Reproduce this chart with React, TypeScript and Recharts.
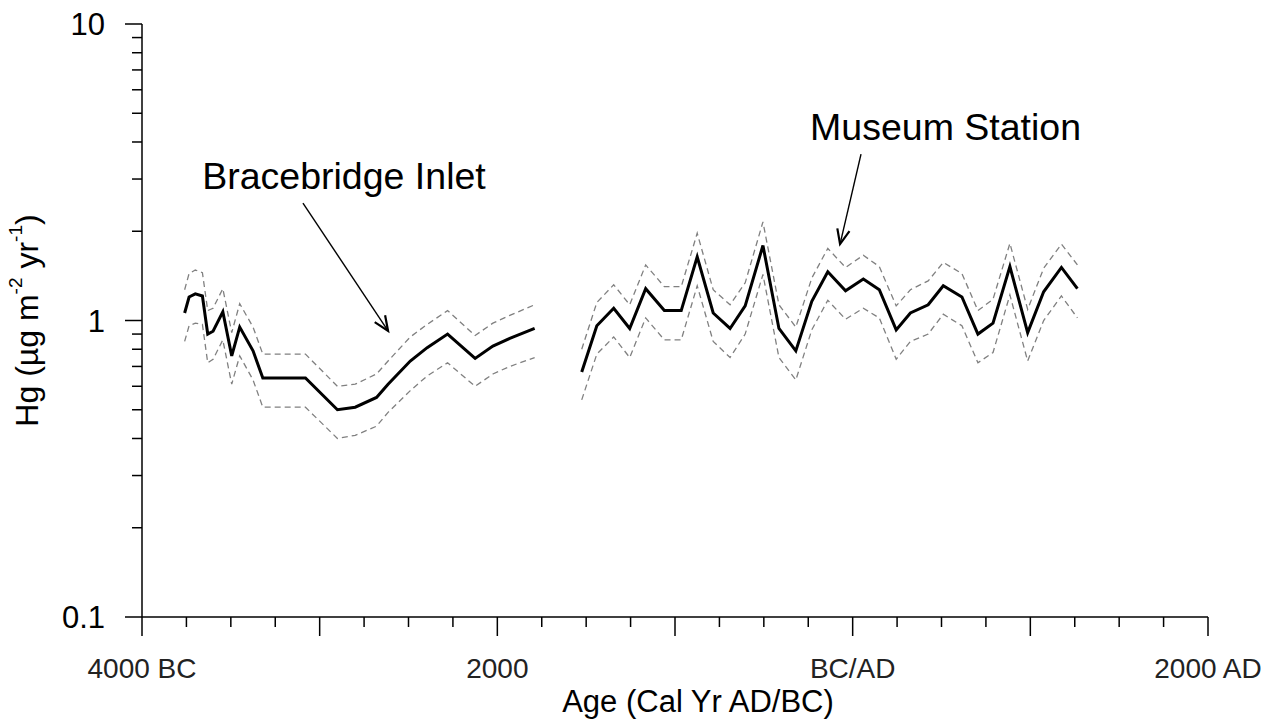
import React from "react";
import {
  LineChart,
  Line,
  XAxis,
  YAxis,
  ReferenceLine,
  ReferenceDot,
} from "recharts";

// Bracebridge Inlet core
const BB_YEARS = [-3760, -3735, -3700, -3660, -3630, -3600, -3545, -3495, -3450, -3375, -3320, -3080, -2900, -2800, -2680, -2615, -2490, -2395, -2280, -2125, -2025, -1930, -1790];
const BB_MID = [1.06, 1.2, 1.23, 1.21, 0.9, 0.92, 1.07, 0.76, 0.95, 0.79, 0.64, 0.64, 0.5, 0.51, 0.55, 0.61, 0.73, 0.81, 0.9, 0.745, 0.82, 0.87, 0.94];
const BB_HI = [1.27, 1.44, 1.48, 1.45, 1.08, 1.1, 1.28, 0.91, 1.14, 0.95, 0.77, 0.77, 0.6, 0.61, 0.66, 0.73, 0.88, 0.97, 1.08, 0.89, 0.98, 1.04, 1.13];
const BB_LO = [0.85, 0.96, 0.98, 0.97, 0.72, 0.74, 0.86, 0.61, 0.76, 0.63, 0.51, 0.51, 0.4, 0.41, 0.44, 0.49, 0.58, 0.65, 0.72, 0.6, 0.66, 0.7, 0.75];

// Museum Station core
const MS_YEARS = [-1525, -1440, -1345, -1255, -1165, -1060, -965, -875, -785, -690, -605, -505, -415, -320, -230, -140, -40, 60, 150, 245, 325, 425, 510, 615, 705, 790, 885, 985, 1075, 1175, 1265];
const MS_MID = [0.67, 0.96, 1.1, 0.94, 1.28, 1.08, 1.08, 1.64, 1.06, 0.94, 1.12, 1.79, 0.94, 0.79, 1.16, 1.46, 1.26, 1.38, 1.27, 0.93, 1.06, 1.13, 1.31, 1.2, 0.9, 0.98, 1.52, 0.91, 1.25, 1.51, 1.28];
const MS_HI = [0.8, 1.15, 1.32, 1.13, 1.54, 1.3, 1.3, 1.97, 1.27, 1.13, 1.34, 2.15, 1.13, 0.95, 1.39, 1.75, 1.51, 1.66, 1.52, 1.12, 1.27, 1.36, 1.57, 1.44, 1.08, 1.18, 1.82, 1.09, 1.5, 1.81, 1.54];
const MS_LO = [0.54, 0.77, 0.88, 0.75, 1.02, 0.86, 0.86, 1.31, 0.85, 0.75, 0.9, 1.43, 0.75, 0.63, 0.93, 1.17, 1.01, 1.1, 1.02, 0.74, 0.85, 0.9, 1.05, 0.96, 0.72, 0.78, 1.22, 0.73, 1.0, 1.21, 1.02];

const X_TICKS = [-4000, -3750, -3500, -3250, -3000, -2750, -2500, -2250, -2000, -1750, -1500, -1250, -1000, -750, -500, -250, 0, 250, 500, 750, 1000, 1250, 1500, 1750, 2000];
const X_LABELS: Record<number, string> = { [-4000]: "4000 BC", [-2000]: "2000", 0: "BC/AD", 2000: "2000 AD" };
const Y_TICKS = [0.1, 0.2, 0.3, 0.4, 0.5, 0.6, 0.7, 0.8, 0.9, 1, 2, 3, 4, 5, 6, 7, 8, 9, 10];
const Y_LABELS: Record<number, string> = { 0.1: "0.1", 1: "1", 10: "10" };

const FONT = "'Liberation Sans', Arial, sans-serif";

const rows = (years: number[], vals: number[]) => years.map((year, i) => ({ year, v: vals[i] }));

function XTick({ x, y, payload }: any) {
  const v = payload.value;
  const major = v % 1000 === 0;
  const label = X_LABELS[v];
  return (
    <g>
      <line x1={x} y1={y} x2={x} y2={y + (major ? 19 : 10)} stroke="#000" strokeWidth={1.5} />
      {label && (
        <text x={x} y={y + 61} textAnchor="middle" fontFamily={FONT} fontSize={28} fill="#222">
          {label}
        </text>
      )}
    </g>
  );
}

function YTick({ x, y, payload }: any) {
  const v = payload.value;
  const label = Y_LABELS[v];
  return (
    <g>
      <line x1={x - (label ? 17 : 10)} y1={y} x2={x} y2={y} stroke="#000" strokeWidth={1.5} />
      {label && (
        <text x={x - 37} y={y + 11} textAnchor="end" fontFamily={FONT} fontSize={31} fill="#000">
          {label}
        </text>
      )}
    </g>
  );
}

function Arrow({ x1, y1, x2, y2 }: any) {
  const a = Math.atan2(y2 - y1, x2 - x1);
  const len = 16;
  const spread = 0.4;
  const p1 = [x2 - len * Math.cos(a - spread), y2 - len * Math.sin(a - spread)];
  const p2 = [x2 - len * Math.cos(a + spread), y2 - len * Math.sin(a + spread)];
  return (
    <g>
      <line x1={x1} y1={y1} x2={x2} y2={y2} stroke="#000" strokeWidth={1.4} />
      <polyline
        points={`${p1[0]},${p1[1]} ${x2},${y2} ${p2[0]},${p2[1]}`}
        fill="none"
        stroke="#000"
        strokeWidth={2.2}
      />
    </g>
  );
}

const note = (text: string) => ({ cx, cy }: any) => (
  <text x={cx} y={cy} textAnchor="middle" fontFamily={FONT} fontSize={37.5} fill="#000">
    {text}
  </text>
);

function YTitle({ viewBox }: any) {
  const cx = 27;
  const cy = viewBox.y + viewBox.height / 2;
  return (
    <text
      x={cx}
      y={cy}
      transform={`rotate(-90 ${cx} ${cy})`}
      textAnchor="middle"
      dominantBaseline="central"
      fontFamily={FONT}
      fontSize={32}
      fill="#000"
    >
      Hg (µg m
      <tspan fontSize={19} dy={-12}>-2</tspan>
      <tspan dy={12}> yr</tspan>
      <tspan fontSize={19} dy={-12}>-1</tspan>
      <tspan dy={12}>)</tspan>
    </text>
  );
}

function XTitle({ viewBox }: any) {
  return (
    <text
      x={viewBox.x + viewBox.width / 2 + 23}
      y={viewBox.y + 95}
      textAnchor="middle"
      fontFamily={FONT}
      fontSize={31}
      fill="#000"
    >
      Age (Cal Yr AD/BC)
    </text>
  );
}

export default function App() {
  const dashed = { stroke: "#808080", strokeWidth: 1.3, strokeDasharray: "6 4" };
  return (
    <div style={{ position: "absolute", left: 0, top: 0, background: "#fff" }}>
      <LineChart width={1275} height={720} margin={{ top: 24, right: 67, bottom: 0, left: 0 }}>
        <XAxis
          type="number"
          dataKey="year"
          domain={[-4000, 2000]}
          ticks={X_TICKS}
          interval={0}
          tick={<XTick />}
          tickLine={false}
          tickSize={0}
          tickMargin={0}
          height={103}
          axisLine={{ stroke: "#000", strokeWidth: 1.5 }}
          label={<XTitle />}
          allowDuplicatedCategory={false}
        />
        <YAxis
          scale="log"
          type="number"
          domain={[0.1, 10]}
          ticks={Y_TICKS}
          interval={0}
          tick={<YTick />}
          tickLine={false}
          tickSize={0}
          tickMargin={0}
          width={142}
          axisLine={{ stroke: "#000", strokeWidth: 1.5 }}
          label={<YTitle />}
          allowDataOverflow
        />
        <Line data={rows(BB_YEARS, BB_HI)} dataKey="v" type="linear" dot={false} isAnimationActive={false} {...dashed} />
        <Line data={rows(BB_YEARS, BB_LO)} dataKey="v" type="linear" dot={false} isAnimationActive={false} {...dashed} />
        <Line data={rows(BB_YEARS, BB_MID)} dataKey="v" type="linear" dot={false} isAnimationActive={false} stroke="#000" strokeWidth={3} />
        <Line data={rows(MS_YEARS, MS_HI)} dataKey="v" type="linear" dot={false} isAnimationActive={false} {...dashed} />
        <Line data={rows(MS_YEARS, MS_LO)} dataKey="v" type="linear" dot={false} isAnimationActive={false} {...dashed} />
        <Line data={rows(MS_YEARS, MS_MID)} dataKey="v" type="linear" dot={false} isAnimationActive={false} stroke="#000" strokeWidth={3} />
        <ReferenceLine segment={[{ x: -3094, y: 2.49 }, { x: -2615, y: 0.922 }]} shape={Arrow} />
        <ReferenceLine segment={[{ x: 47, y: 3.64 }, { x: -71, y: 1.81 }]} shape={Arrow} />
        <ReferenceDot x={-2863} y={2.78} r={0} shape={note("Bracebridge Inlet")} />
        <ReferenceDot x={523} y={4.05} r={0} shape={note("Museum Station")} />
      </LineChart>
    </div>
  );
}
